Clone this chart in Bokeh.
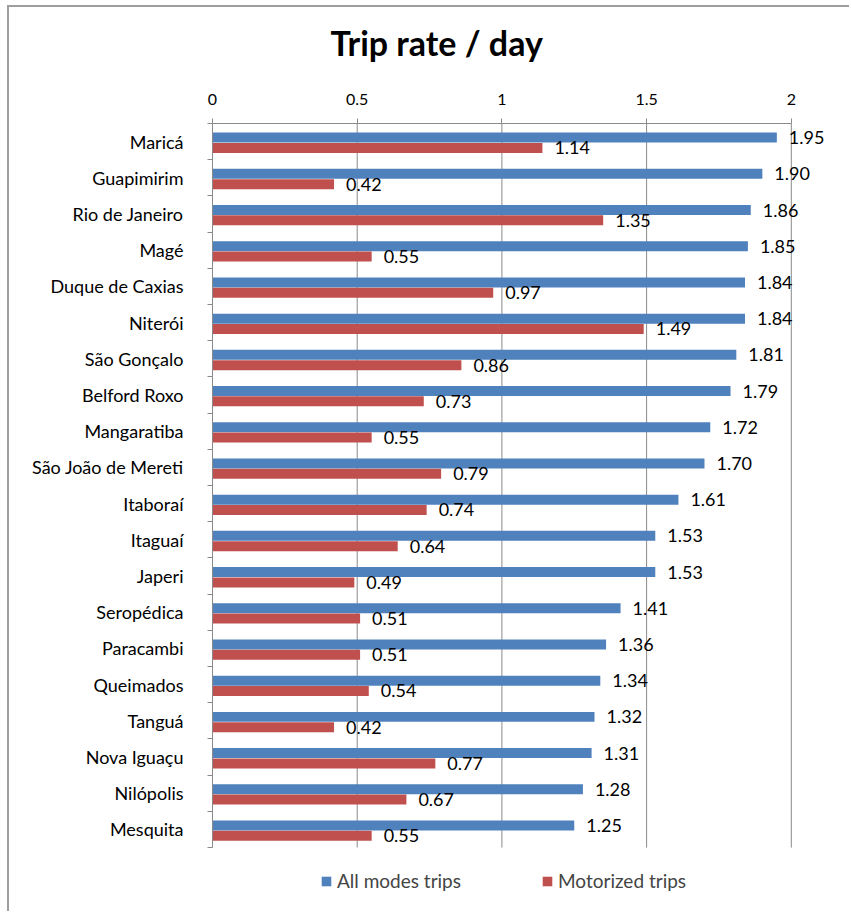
from bokeh.plotting import figure
from bokeh.models import (ColumnDataSource, Range1d, FixedTicker, LabelSet,
                          Legend, LegendItem)
from bokeh.core.properties import value
from bokeh.embed import file_html
from bokeh.resources import INLINE

# Municipalities, top to bottom
cities = ["Maricá", "Guapimirim", "Rio de Janeiro", "Magé", "Duque de Caxias",
          "Niterói", "São Gonçalo", "Belford Roxo", "Mangaratiba",
          "São João de Mereti", "Itaboraí", "Itaguaí", "Japeri", "Seropédica",
          "Paracambi", "Queimados", "Tanguá", "Nova Iguaçu", "Nilópolis",
          "Mesquita"]
all_modes = [1.95, 1.90, 1.86, 1.85, 1.84, 1.84, 1.81, 1.79, 1.72, 1.70,
             1.61, 1.53, 1.53, 1.41, 1.36, 1.34, 1.32, 1.31, 1.28, 1.25]
motorized = [1.14, 0.42, 1.35, 0.55, 0.97, 1.49, 0.86, 0.73, 0.55, 0.79,
             0.74, 0.64, 0.49, 0.51, 0.51, 0.54, 0.42, 0.77, 0.67, 0.55]
x_ticks = [0, 0.5, 1, 1.5, 2]
x_tick_labels = ["0", "0.5", "1", "1.5", "2"]

FONT = "Lato"
BLUE = "#4F81BD"
RED = "#C0504D"
GRID = "#8A8A8A"

n = len(cities)
x_max = x_ticks[-1]
centers = [n - i - 0.5 for i in range(n)]          # first city at the top
boundaries = list(range(n + 1))

src = ColumnDataSource(dict(
    city=cities,
    yc=centers,
    y_all=[c + 0.11 for c in centers],
    y_mot=[c - 0.175 for c in centers],
    all_modes=all_modes,
    motorized=motorized,
    all_txt=[f"{v:.2f}" for v in all_modes],
    mot_txt=[f"{v:.2f}" for v in motorized],
))

# The frame reaches a little past the value scale (right) and below the
# last category (bottom) so the value labels and the legend have room.
p = figure(frame_width=628, frame_height=782,
           x_range=Range1d(0, 2.17), y_range=Range1d(-1.6, n),
           x_axis_location="above",
           min_border_left=203, min_border_right=9,
           min_border_top=116, min_border_bottom=6,
           output_backend="svg", toolbar_location=None,
           background_fill_color="white", border_fill_color="white",
           styles={"margin-left": "7px", "margin-top": "5px",
                   "border-left": "2px solid #9E9E9E",
                   "border-top": "2px solid #9E9E9E"})
p.outline_line_color = None

# Title
p.title.text = "Trip rate / day"
p.title.text_font = FONT
p.title.text_font_style = "bold"
p.title.text_font_size = "34px"
p.title.align = "left"
p.title.vertical_align = "top"
p.title.offset = 118
p.title.standoff = 20
p.title.text_color = "black"

# Top value axis (a blank axis label leaves a gap below the title)
xa = p.xaxis[0]
xa.ticker = FixedTicker(ticks=x_ticks)
xa.bounds = (0, x_max)
xa.major_label_overrides = {t: s for t, s in zip(x_ticks, x_tick_labels)}
xa.major_label_text_font = FONT
xa.major_label_text_font_size = "16px"
xa.major_label_text_color = "black"
xa.major_label_standoff = 14
xa.axis_label = " "
xa.axis_label_text_font_size = "10px"
xa.axis_label_standoff = 2
xa.axis_line_color = GRID
xa.major_tick_line_color = GRID
xa.major_tick_out = 5
xa.major_tick_in = 0
xa.minor_tick_line_color = None

# Vertical grid lines, limited to the category area
p.xgrid.grid_line_color = None
p.ygrid.grid_line_color = None
p.segment(x0=x_ticks[1:], y0=0, x1=x_ticks[1:], y1=n,
          line_color=GRID, line_width=1)

# Category axis: names at centers, tick marks at boundaries
ya = p.yaxis[0]
ya.ticker = FixedTicker(ticks=centers, minor_ticks=boundaries)
ya.bounds = (0, n)
ya.major_label_overrides = {c: name for c, name in zip(centers, cities)}
ya.major_label_text_font = FONT
ya.major_label_text_font_size = "18px"
ya.major_label_text_color = "black"
ya.major_tick_line_color = None
ya.major_tick_out = 0
ya.major_tick_in = 0
ya.major_label_standoff = 24
ya.minor_tick_line_color = GRID
ya.minor_tick_out = 5
ya.minor_tick_in = 0
ya.axis_line_color = GRID

BAR_H = 0.276
r_all = p.hbar(y="y_all", left=0, right="all_modes", height=BAR_H,
               source=src, fill_color=BLUE, line_color=None)
r_mot = p.hbar(y="y_mot", left=0, right="motorized", height=BAR_H,
               source=src, fill_color=RED, line_color=None)

lab_all = LabelSet(x="all_modes", y="y_all", text="all_txt", source=src,
                   x_offset=12, text_baseline="middle", text_align="left",
                   text_font=value(FONT), text_font_size=value("18px"),
                   text_color="black")
lab_mot = LabelSet(x="motorized", y="y_mot", text="mot_txt", source=src,
                   x_offset=12, text_baseline="middle", text_align="left",
                   text_font=value(FONT), text_font_size=value("18px"),
                   text_color="black")
p.add_layout(lab_all)
p.add_layout(lab_mot)

legend = Legend(items=[LegendItem(label="All modes trips", renderers=[r_all]),
                       LegendItem(label="Motorized trips", renderers=[r_mot])],
                orientation="horizontal", location=(108, 13),
                border_line_color=None, background_fill_alpha=0,
                glyph_width=12, glyph_height=12, label_standoff=5,
                spacing=80, padding=0, margin=0,
                label_text_font=FONT, label_text_font_size="19px")
p.add_layout(legend)

open("out.html", "w").write(file_html(p, INLINE))
